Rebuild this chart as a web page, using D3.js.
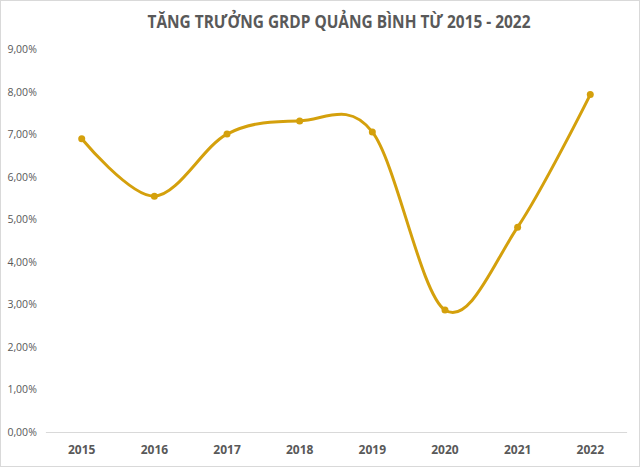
<!DOCTYPE html>
<html>
<head>
<meta charset="utf-8">
<script src="https://cdn.jsdelivr.net/npm/d3@7"></script>
<style>
  html, body { margin: 0; padding: 0; background: #fff; }
  svg { display: block; }
</style>
</head>
<body>
<div id="chart"></div>
<script>
// données
const years = ["2015", "2016", "2017", "2018", "2019", "2020", "2021", "2022"];
const growth = [6.90, 5.55, 7.01, 7.32, 7.06, 2.87, 4.82, 7.94];
const yTicks = [0, 1, 2, 3, 4, 5, 6, 7, 8, 9];
const title = "TĂNG TRƯỞNG GRDP QUẢNG BÌNH TỪ 2015 - 2022";

const W = 640, H = 468;
const margin = { top: 49.5, right: 14, bottom: 36, left: 45.4 };
const width = 626.6 - margin.left;
const height = 432 - margin.top;
const color = "#d4a00c";
const font = "'Open Sans', 'Liberation Sans', sans-serif";

const svg = d3.select("#chart")
    .append("svg")
    .attr("width", W)
    .attr("height", H)
    .attr("viewBox", `0 0 ${W} ${H}`);

// cadre du graphique
svg.append("rect")
    .attr("x", 0.5).attr("y", 0.5)
    .attr("width", W - 1).attr("height", H - 2)
    .attr("fill", "#fff")
    .attr("stroke", "#d9d9d9");

svg.append("text")
    .attr("x", 339)
    .attr("y", 28)
    .attr("text-anchor", "middle")
    .attr("textLength", 383)
    .attr("lengthAdjust", "spacingAndGlyphs")
    .style("font-family", font)
    .style("font-size", "17px")
    .style("font-weight", "bold")
    .style("fill", "#595959")
    .text(title);

const g = svg.append("g")
    .attr("transform", `translate(${margin.left},${margin.top})`);

const x = d3.scaleBand()
    .domain(years)
    .range([0, width]);

const y = d3.scaleLinear()
    .domain([0, 9])
    .range([height, 0]);

// étiquettes de l'axe Y
g.append("g")
    .selectAll("text")
    .data(yTicks)
    .join("text")
    .attr("x", -38)
    .attr("y", d => y(d))
    .attr("dy", "0.35em")
    .style("font-family", font)
    .style("font-size", "10.5px")
    .style("fill", "#595959")
    .text(d => d3.format(".2f")(d).replace(".", ",") + "%");

// axe X
const xAxis = g.append("g")
    .attr("transform", `translate(0,${height})`)
    .call(d3.axisBottom(x).tickSize(0).tickPadding(13));
xAxis.select(".domain").attr("stroke", "#d9d9d9").attr("stroke-width", 1);
xAxis.selectAll("text")
    .style("font-family", font)
    .style("font-size", "12px")
    .style("font-weight", "bold")
    .style("fill", "#595959");

const pts = years.map((d, i) => ({ year: d, value: growth[i] }));

const line = d3.line()
    .x(d => x(d.year) + x.bandwidth() / 2)
    .y(d => y(d.value))
    .curve(d3.curveCardinal.tension(0));

g.append("path")
    .datum(pts)
    .attr("fill", "none")
    .attr("stroke", color)
    .attr("stroke-width", 3)
    .attr("stroke-linecap", "round")
    .attr("d", line);

g.selectAll("circle")
    .data(pts)
    .join("circle")
    .attr("cx", d => x(d.year) + x.bandwidth() / 2)
    .attr("cy", d => y(d.value))
    .attr("r", 3.5)
    .attr("fill", color);
</script>
</body>
</html>
